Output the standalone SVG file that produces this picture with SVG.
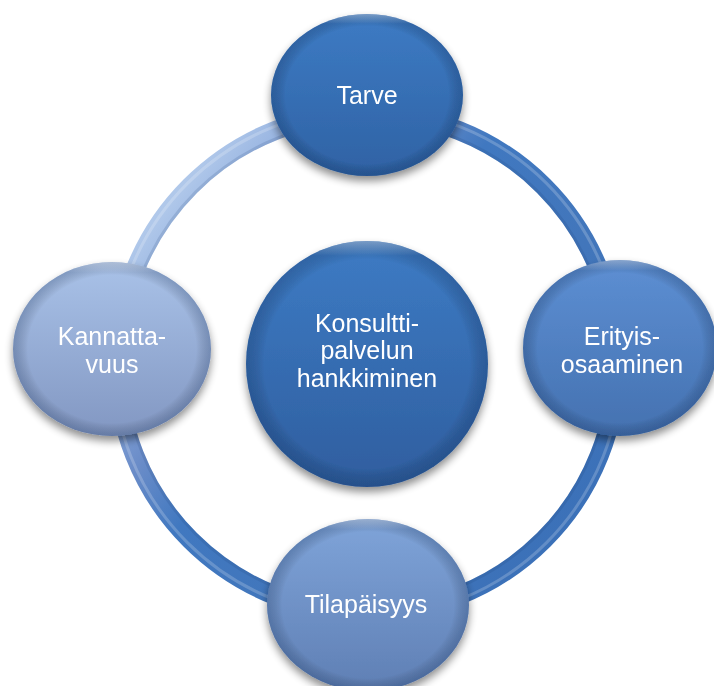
<svg xmlns="http://www.w3.org/2000/svg" width="714" height="686" viewBox="0 0 714 686">
<defs>
<filter id="sh" x="-20%" y="-20%" width="140%" height="150%">
<feGaussianBlur in="SourceAlpha" stdDeviation="4"/>
<feOffset dy="5" result="b"/>
<feComponentTransfer><feFuncA type="linear" slope="0.45"/></feComponentTransfer>
<feMerge><feMergeNode/><feMergeNode in="SourceGraphic"/></feMerge>
</filter>
<linearGradient id="ringG" x1="0" y1="0" x2="1" y2="0.8">
<stop offset="0.15" stop-color="#b0c8ea"/>
<stop offset="0.25" stop-color="#8fadde"/>
<stop offset="0.37" stop-color="#6a8cc8"/>
<stop offset="0.48" stop-color="#4078c0"/>
<stop offset="0.7" stop-color="#4276bb"/>
<stop offset="1" stop-color="#3a70b8"/>
</linearGradient>
<linearGradient id="gTop" x1="0" y1="0" x2="0" y2="1">
<stop offset="0" stop-color="#3d7bc4"/><stop offset="1" stop-color="#2f62a4"/>
</linearGradient>
<linearGradient id="gCen" x1="0" y1="0" x2="0" y2="1">
<stop offset="0" stop-color="#3d7bc4"/><stop offset="1" stop-color="#2f5e9f"/>
</linearGradient>
<linearGradient id="gRight" x1="0" y1="0" x2="0" y2="1">
<stop offset="0" stop-color="#5d8fd3"/><stop offset="1" stop-color="#4471b0"/>
</linearGradient>
<linearGradient id="gBot" x1="0" y1="0" x2="0" y2="1">
<stop offset="0" stop-color="#7fa4d9"/><stop offset="1" stop-color="#5f7fb4"/>
</linearGradient>
<linearGradient id="gLeft" x1="0" y1="0" x2="0" y2="1">
<stop offset="0" stop-color="#a9c2e8"/><stop offset="1" stop-color="#8297c2"/>
</linearGradient>
<radialGradient id="rim" cx="0.5" cy="0.5" r="0.5">
<stop offset="0.85" stop-color="#000" stop-opacity="0"/>
<stop offset="1" stop-color="#0a2550" stop-opacity="0.25"/>
</radialGradient>
<linearGradient id="hl" x1="0" y1="0" x2="0" y2="1">
<stop offset="0" stop-color="#fff" stop-opacity="0.35"/>
<stop offset="0.06" stop-color="#fff" stop-opacity="0"/>
</linearGradient>
</defs>
<style>
.t{font-family:"Liberation Sans",Arial,sans-serif;font-size:25px;fill:#fff;text-anchor:middle}
.rimo{fill:url(#rim)}
.hlo{fill:url(#hl)}
</style>
<g id="connectors">
<circle cx="367" cy="363" r="250" fill="none" stroke="url(#ringG)" stroke-width="19"/>
<circle cx="367" cy="363" r="254" fill="none" stroke="#ffffff" stroke-opacity="0.2" stroke-width="3"/>
<circle cx="367" cy="363" r="242" fill="none" stroke="#1e3f70" stroke-opacity="0.15" stroke-width="3"/>
</g>
<g id="node-center" filter="url(#sh)">
<ellipse cx="367" cy="364" rx="121" ry="123" fill="url(#gCen)"/>
<ellipse class="rimo" cx="367" cy="364" rx="121" ry="123"/>
<ellipse class="hlo" cx="367" cy="364" rx="121" ry="123"/>
<text class="t" x="367" y="332">Konsultti-</text>
<text class="t" x="367" y="359">palvelun</text>
<text class="t" x="367" y="387">hankkiminen</text>
</g>
<g id="node-tarve" filter="url(#sh)">
<ellipse cx="367" cy="95" rx="96" ry="81" fill="url(#gTop)"/>
<ellipse class="rimo" cx="367" cy="95" rx="96" ry="81"/>
<ellipse class="hlo" cx="367" cy="95" rx="96" ry="81"/>
<text class="t" x="367" y="104">Tarve</text>
</g>
<g id="node-erityis" filter="url(#sh)">
<ellipse cx="620" cy="348" rx="97" ry="88" fill="url(#gRight)"/>
<ellipse class="rimo" cx="620" cy="348" rx="97" ry="88"/>
<ellipse class="hlo" cx="620" cy="348" rx="97" ry="88"/>
<text class="t" x="622" y="345">Erityis-</text>
<text class="t" x="622" y="373">osaaminen</text>
</g>
<g id="node-tilapaisyys" filter="url(#sh)">
<ellipse cx="368" cy="605" rx="101" ry="86" fill="url(#gBot)"/>
<ellipse class="rimo" cx="368" cy="605" rx="101" ry="86"/>
<ellipse class="hlo" cx="368" cy="605" rx="101" ry="86"/>
<text class="t" x="366" y="613">Tilapäisyys</text>
</g>
<g id="node-kannattavuus" filter="url(#sh)">
<ellipse cx="112" cy="349" rx="99" ry="87" fill="url(#gLeft)"/>
<ellipse class="rimo" cx="112" cy="349" rx="99" ry="87"/>
<ellipse class="hlo" cx="112" cy="349" rx="99" ry="87"/>
<text class="t" x="112" y="345">Kannatta-</text>
<text class="t" x="112" y="373">vuus</text>
</g>
</svg>
